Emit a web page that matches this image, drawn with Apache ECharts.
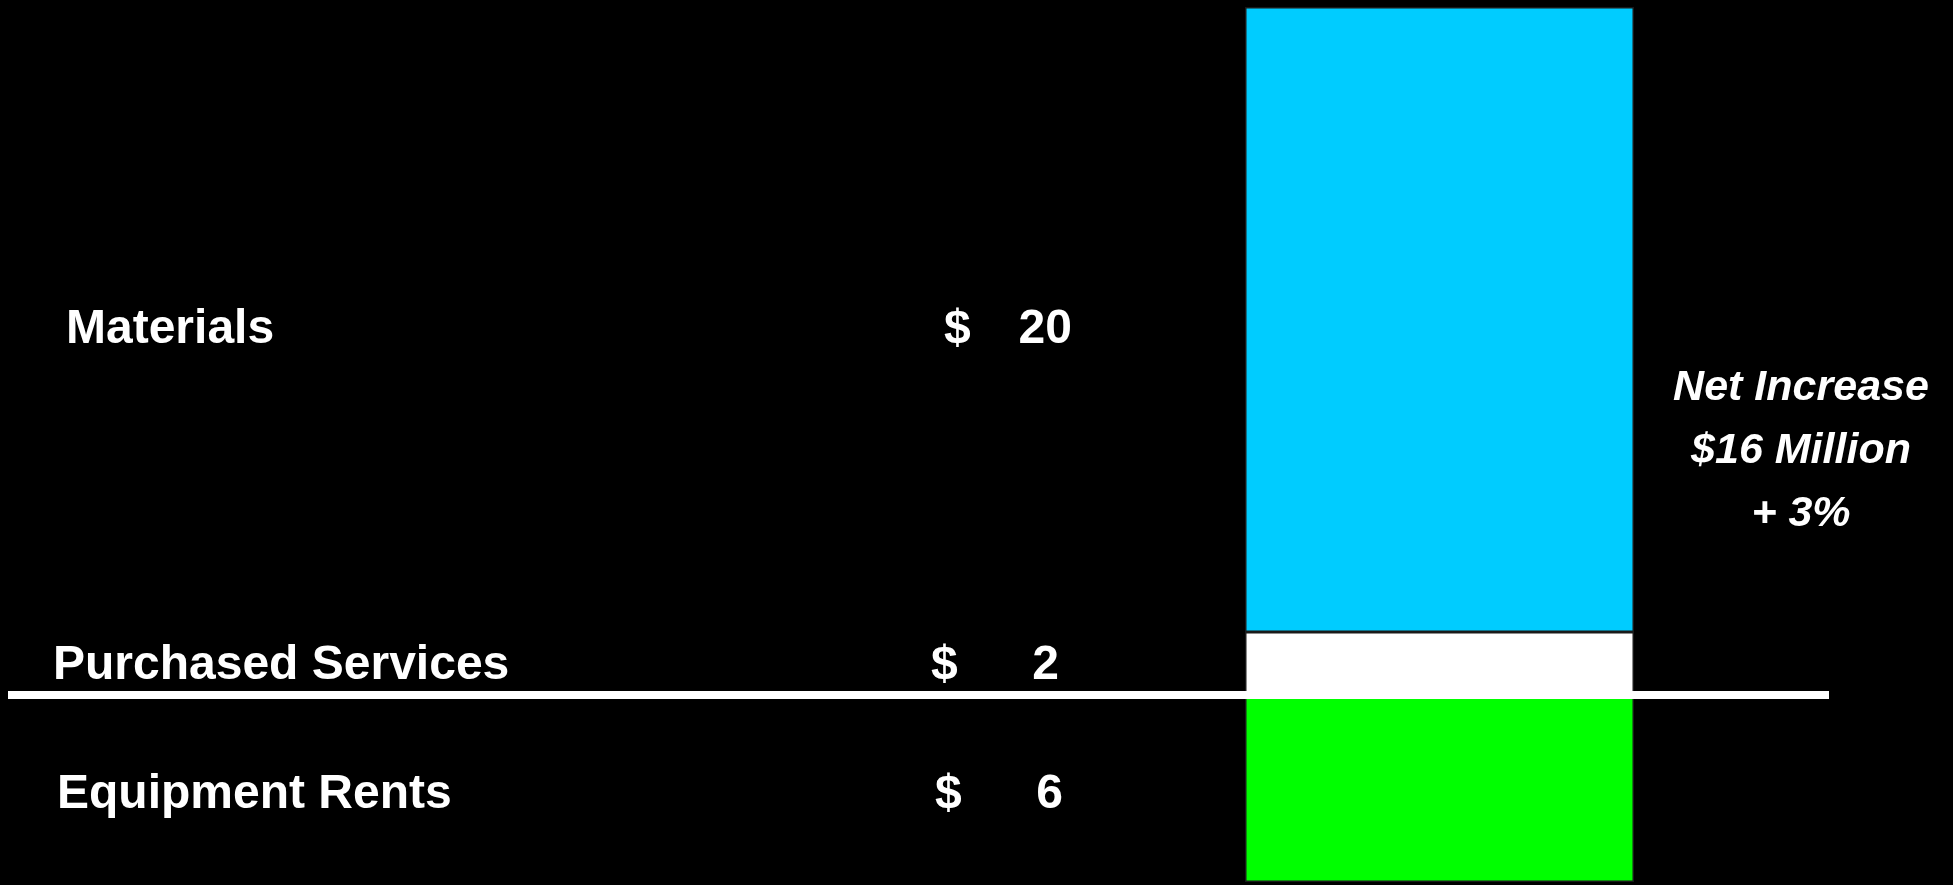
<!DOCTYPE html>
<html>
<head>
<meta charset="utf-8">
<script src="https://cdn.jsdelivr.net/npm/echarts@6/dist/echarts.min.js"></script>
<style>
  html, body { margin: 0; padding: 0; background: #000; }
  #chart { width: 1953px; height: 885px; }
</style>
</head>
<body>
<div id="chart"></div>
<script>
// Cost changes in $ millions (positive = increase, negative = decrease)
const categories = ['Purchased Services', 'Materials', 'Equipment Rents'];
const changes = [2, 20, -6];
const barColors = ['#FFFFFF', '#00CCFF', '#00FF00'];
const percentChange = '+ 3%';
const axisMin = -6;
const axisMax = 22;

const FONT = '"Liberation Sans", Arial, Helvetica, sans-serif';
const net = changes.reduce((a, b) => a + b, 0);

// Label placement for each row (distance left of the bar, vertical nudge)
const labelDistance = [186, 173, 182];
const labelOffset = [[0, 3], [0, 10], [0, 7]];

const rowText = { color: '#fff', fontSize: 48, fontWeight: 'bold', fontFamily: FONT };
const rowRich = {
  n: Object.assign({ width: 878, align: 'left' }, rowText),
  d: Object.assign({ width: 60, align: 'left' }, rowText),
  v: Object.assign({ width: 68, align: 'right' }, rowText)
};

const series = categories.map((name, i) => ({
  name: name,
  type: 'bar',
  stack: 'total',
  xAxisIndex: 1,
  yAxisIndex: 1,
  barWidth: '100%',
  data: [changes[i]],
  itemStyle: { color: barColors[i], borderColor: '#1a1a1a', borderWidth: 1.5 },
  label: {
    show: true,
    position: 'left',
    distance: labelDistance[i],
    offset: labelOffset[i],
    formatter: p => `{n|${p.seriesName}}{d|$}{v|${Math.abs(p.value)}}`,
    rich: rowRich
  },
  emphasis: { disabled: true }
}));

const chart = echarts.init(document.getElementById('chart'));
chart.setOption({
  backgroundColor: '#000',
  animation: false,
  grid: [
    { left: 8, right: 124, top: 7, bottom: 3 },
    { left: 1245, right: 319, top: 7, bottom: 3 }
  ],
  xAxis: [
    {
      gridIndex: 0, type: 'category', data: [''], z: 10,
      axisLine: { show: true, onZero: true, lineStyle: { color: '#fff', width: 8, cap: 'butt' } },
      axisTick: { show: false }, axisLabel: { show: false }, splitLine: { show: false }
    },
    {
      gridIndex: 1, type: 'category', data: [''],
      axisLine: { show: false }, axisTick: { show: false }, axisLabel: { show: false }
    }
  ],
  yAxis: [
    { gridIndex: 0, type: 'value', min: axisMin, max: axisMax, show: false, splitLine: { show: false } },
    { gridIndex: 1, type: 'value', min: axisMin, max: axisMax, show: false, splitLine: { show: false } }
  ],
  series: series,
  graphic: [{
    type: 'text',
    x: 1801,
    y: 451,
    z: 20,
    style: {
      text: `Net Increase\n$${net} Million\n${percentChange}`,
      fill: '#fff',
      font: `italic bold 43px ${FONT}`,
      textAlign: 'center',
      textVerticalAlign: 'middle',
      lineHeight: 63
    }
  }]
});
</script>
</body>
</html>
